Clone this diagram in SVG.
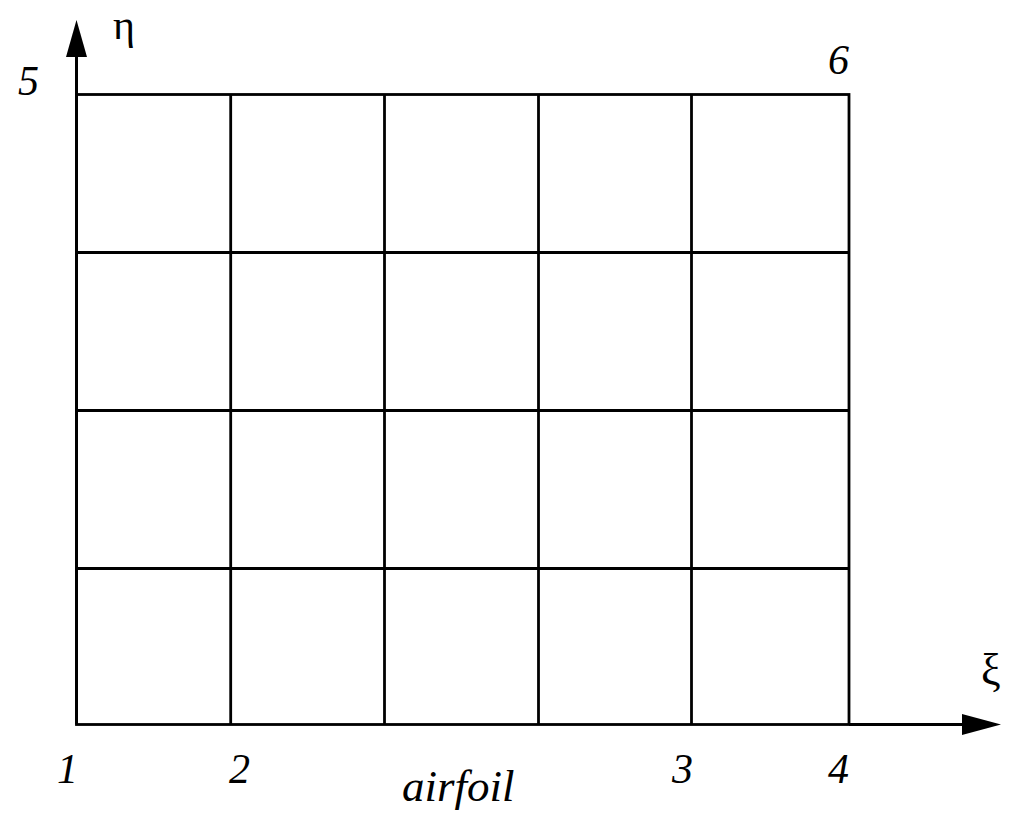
<svg xmlns="http://www.w3.org/2000/svg" width="1011" height="819" viewBox="0 0 1011 819">
<style>
.g{stroke:#000;stroke-width:2.8;fill:none}
.ax{stroke:#000;stroke-width:3;fill:none}
.lbl{font-family:"Liberation Serif","DejaVu Serif",serif;font-style:italic;font-size:42px;fill:#000}
.gr{font-family:"Liberation Serif","DejaVu Serif",serif;font-size:44px;fill:#000}
</style>
<rect width="1011" height="819" fill="#fff"/>
<g id="grid">
<rect class="g" x="76.5" y="94.5" width="772.5" height="630"/>
<line class="g" x1="230.7" y1="94.5" x2="230.7" y2="724.5"/>
<line class="g" x1="384.5" y1="94.5" x2="384.5" y2="724.5"/>
<line class="g" x1="538.5" y1="94.5" x2="538.5" y2="724.5"/>
<line class="g" x1="691.5" y1="94.5" x2="691.5" y2="724.5"/>
<line class="g" x1="76.5" y1="252.5" x2="849" y2="252.5"/>
<line class="g" x1="76.5" y1="410.5" x2="849" y2="410.5"/>
<line class="g" x1="76.5" y1="568.5" x2="849" y2="568.5"/>
</g>
<g id="axes">
<line class="ax" x1="76.5" y1="724.5" x2="76.5" y2="55"/>
<polygon points="76.5,20 66,57 87,57" fill="#000"/>
<line class="ax" x1="849" y1="724.5" x2="964" y2="724.5"/>
<polygon points="1001,724.5 962,714 962,735" fill="#000"/>
</g>
<g id="labels">
<text class="gr" x="113" y="39" style="font-size:42px">η</text>
<text class="gr" x="981" y="684">ξ</text>
<text class="lbl" x="18" y="95">5</text>
<text class="lbl" x="828" y="74">6</text>
<text class="lbl" x="57" y="783">1</text>
<text class="lbl" x="229" y="783">2</text>
<text class="lbl" x="672" y="783">3</text>
<text class="lbl" x="828" y="783">4</text>
<text class="lbl" x="402" y="801" style="font-size:45px">airfoil</text>
</g>
</svg>
